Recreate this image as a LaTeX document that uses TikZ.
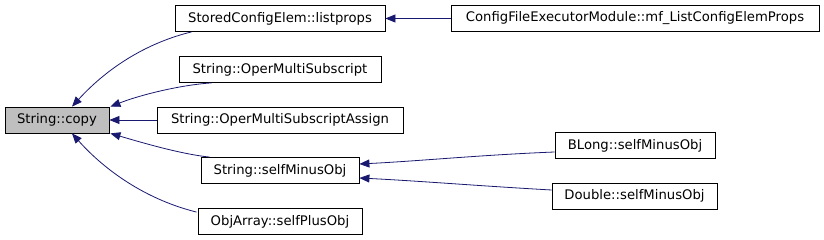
\documentclass[tikz,border=0pt]{standalone}
\usepackage{fontspec}
\setmainfont{DejaVu Sans}
\usetikzlibrary{arrows.meta,calc}
\definecolor{edgeblue}{HTML}{191970}
\definecolor{hilite}{HTML}{BFBFBF}
\tikzset{
  box/.style={draw=black, line width=0.8pt, rectangle, inner sep=0pt, minimum height=26pt, font=\fontsize{13.2}{15}\selectfont},
  calls/.style={draw=edgeblue, line width=0.8pt, -{Triangle[length=10pt,width=8pt]}},
}
\begin{document}
\begin{tikzpicture}[x=1pt,y=1pt]
\useasboundingbox (0,0) rectangle (824,240);
\node[box, fill=hilite, minimum width=104pt] (copy) at (57,120) {String::copy};
\node[box, minimum width=210pt] (listprops) at (280,221.5) {StoredConfigElem::listprops};
\node[box, minimum width=202pt] (oms) at (280,170.5) {String::OperMultiSubscript};
\node[box, minimum width=246pt] (omsa) at (280,120) {String::OperMultiSubscriptAssign};
\node[box, minimum width=158pt] (sminus) at (280,69.5) {String::selfMinusObj};
\node[box, minimum width=164pt] (splus) at (280,18.5) {ObjArray::selfPlusObj};
\node[box, minimum width=368pt] (cfg) at (635,221.5) {ConfigFileExecutorModule::mf\_ListConfigElemProps};
\node[box, minimum width=160pt] (blong) at (635,94.5) {BLong::selfMinusObj};
\node[box, minimum width=165pt] (dbl) at (634.5,44) {Double::selfMinusObj};

\draw[calls] ($(listprops.south west)+(17,0)$) .. controls (150,198) and (110,175) .. ($(copy.north)+(15,0)$);
\draw[calls] ($(oms.south west)+(33,0)$) .. controls (180,155) and (140,145) .. ($(copy.north east)+(1,0)$);
\draw[calls] (omsa.west) -- (copy.east);
\draw[calls] ($(sminus.north west)+(9,0)$) .. controls (180,86) and (140,98) .. ($(copy.south east)+(1,0)$);
\draw[calls] ($(splus.north west)+(-1,-4)$) .. controls (140,42) and (100,75) .. ($(copy.south)+(15,0)$);
\draw[calls] (cfg.west) -- (listprops.east);
\draw[calls] ($(blong.west)+(0,-6.5)$) .. controls (480,85) and (420,79) .. ($(sminus.east)+(0,6.5)$);
\draw[calls] ($(dbl.west)+(0,6)$) .. controls (480,54) and (420,59) .. ($(sminus.east)+(0,-7.5)$);
\end{tikzpicture}
\end{document}
